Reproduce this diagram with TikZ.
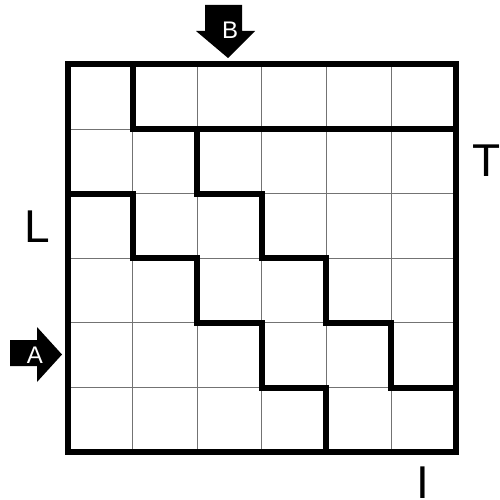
\documentclass[tikz,border=0pt]{standalone}
\usepackage{fontspec}
\setmainfont{Liberation Sans}
\begin{document}
\begin{tikzpicture}[x=1pt,y=-1pt,
  thinline/.style={draw=black!55,line width=1pt},
  wall/.style={draw=black,line width=6pt,line join=miter,line cap=rect},
  biglabel/.style={font=\fontsize{46}{46}\selectfont,inner sep=0pt},
  arrowlabel/.style={font=\fontsize{24}{24}\selectfont,text=white,inner sep=0pt}]
\useasboundingbox (0,0) rectangle (499,500);
\def\gx{68}\def\gy{64.5}\def\cs{64.6}
% thin grid
\foreach \i in {1,...,5}{
  \draw[thinline] (\gx+\i*\cs,\gy) -- (\gx+\i*\cs,\gy+6*\cs);
  \draw[thinline] (\gx,\gy+\i*\cs) -- (\gx+6*\cs,\gy+\i*\cs);
}
% walls
\draw[wall] (\gx,\gy) rectangle (\gx+6*\cs,\gy+6*\cs);
\draw[wall] (\gx+\cs,\gy) -- (\gx+\cs,\gy+\cs) -- (\gx+6*\cs,\gy+\cs);
\draw[wall] (\gx,\gy+2*\cs) -- (\gx+\cs,\gy+2*\cs) -- (\gx+\cs,\gy+3*\cs)
  -- (\gx+2*\cs,\gy+3*\cs) -- (\gx+2*\cs,\gy+4*\cs) -- (\gx+3*\cs,\gy+4*\cs)
  -- (\gx+3*\cs,\gy+5*\cs) -- (\gx+4*\cs,\gy+5*\cs) -- (\gx+4*\cs,\gy+6*\cs);
\draw[wall] (\gx+2*\cs,\gy+\cs) -- (\gx+2*\cs,\gy+2*\cs) -- (\gx+3*\cs,\gy+2*\cs)
  -- (\gx+3*\cs,\gy+3*\cs) -- (\gx+4*\cs,\gy+3*\cs) -- (\gx+4*\cs,\gy+4*\cs)
  -- (\gx+5*\cs,\gy+4*\cs) -- (\gx+5*\cs,\gy+5*\cs) -- (\gx+6*\cs,\gy+5*\cs);
% arrow B
\fill[black] (205,5) -- (242,5) -- (242,31) -- (255,31) -- (228,58)
  -- (196,31) -- (205,31) -- cycle;
\node[arrowlabel] (B) at (230,30) {B};
% arrow A
\fill[black] (10,340) -- (37,340) -- (37,327) -- (62,354.5) -- (37,382)
  -- (37,366) -- (10,366) -- cycle;
\node[arrowlabel] (A) at (35,355) {A};
% side labels
\node[biglabel] (T) at (487,161) {T};
\node[biglabel] (L) at (37,227) {L};
\node[biglabel,anchor=north] (I) at (423,467) {I};
\end{tikzpicture}
\end{document}
